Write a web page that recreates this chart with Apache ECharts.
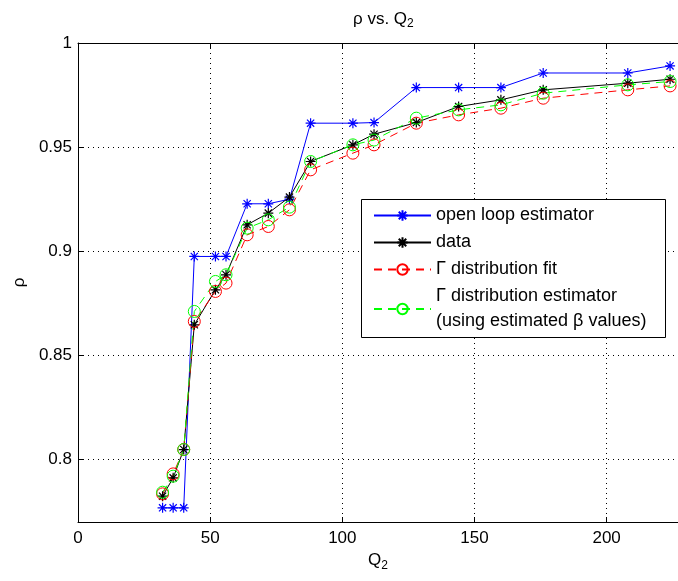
<!DOCTYPE html>
<html>
<head>
<meta charset="utf-8">
<script src="https://cdn.jsdelivr.net/npm/echarts@6/dist/echarts.min.js"></script>
<style>html,body{margin:0;padding:0;background:#fff;}#c{width:678px;height:581px;}</style>
</head>
<body>
<div id="c"></div>
<script>
const xValues = [32,36,40,44,52,56,64,72,80,88,104,112,128,144,160,176,208,224];
const openLoop = [0.7768,0.7768,0.7768,0.8975,0.8975,0.8975,0.9228,0.9228,0.9250,0.9615,0.9615,0.9618,0.9786,0.9786,0.9786,0.9856,0.9856,0.9890];
const dataVals = [0.7824,0.7912,0.8048,0.8647,0.8815,0.8887,0.9127,0.9183,0.9260,0.9431,0.9511,0.9562,0.9618,0.9695,0.9727,0.9775,0.9807,0.9826];
const gammaFit = [0.7835,0.7931,0.8048,0.8663,0.8807,0.8847,0.9079,0.9119,0.9199,0.9391,0.9471,0.9511,0.9615,0.9655,0.9687,0.9735,0.9775,0.9794];
const gammaEst = [0.7843,0.7920,0.8048,0.8711,0.8855,0.8887,0.9111,0.9151,0.9212,0.9431,0.9511,0.9534,0.9639,0.9679,0.9703,0.9759,0.9799,0.9815];
const seriesNames = ['open loop estimator','data','Γ distribution fit','Γ distribution estimator\n(using estimated β values)'];

const FONT = 'Liberation Sans, Arial, Helvetica, sans-serif';
const STAR = 'path://M0,-1L0,1M-1,0L1,0M-0.72,-0.72L0.72,0.72M-0.72,0.72L0.72,-0.72';
const CIRC = 'path://M1,0A1,1 0 1,1 -1,0A1,1 0 1,1 1,0Z';
const pairs = v => xValues.map((x,i)=>[x,v[i]]);

const chart = echarts.init(document.getElementById('c'), null, {renderer:'canvas'});
const axisCommon = {
  axisLine:{show:true,lineStyle:{color:'#000',width:1}},
  axisTick:{show:true,inside:true,length:5,lineStyle:{color:'#000'}},
};
chart.setOption({
  animation:false,
  backgroundColor:'#fff',
  title:{
    text:'{a|ρ vs. Q}{s|2}', left:348, top:3,
    textStyle:{fontWeight:'normal',rich:{a:{fontSize:17,fontWeight:'normal',fontFamily:FONT,color:'#000'},s:{fontSize:12,fontWeight:'normal',fontFamily:FONT,color:'#000',padding:[10,0,0,0]}}}
  },
  grid:{left:78,right:0,top:43,bottom:59,containLabel:false},
  xAxis:[{
    type:'value', min:0, max:227, interval:50,
    name:'{a|Q}{s|2}', nameLocation:'middle', nameGap:27,
    nameTextStyle:{rich:{a:{fontSize:17,fontFamily:FONT,color:'#000'},s:{fontSize:12,fontFamily:FONT,color:'#000',padding:[10,0,0,0]}}},
    ...axisCommon,
    axisLabel:{fontSize:17,fontFamily:FONT,color:'#000',margin:8,showMaxLabel:false},
    splitLine:{show:true,lineStyle:{color:'#000',type:[1,4],width:1}}
  },{
    type:'value', min:0, max:227, interval:50, position:'top',
    ...axisCommon, axisLabel:{show:false}, splitLine:{show:false}
  }],
  yAxis:[{
    type:'value', min:0.77, max:1, splitNumber:5,
    name:'ρ', nameLocation:'middle', nameGap:49, nameRotate:90,
    nameTextStyle:{fontSize:17,fontFamily:FONT,color:'#000'},
    ...axisCommon,
    axisLabel:{fontSize:17,fontFamily:FONT,color:'#000',margin:6,showMinLabel:false},
    splitLine:{show:true,lineStyle:{color:'#000',type:[1,4],width:1}}
  }],
  legend:{
    orient:'vertical', left:361, top:199, padding:[4,0,0,12],
    itemWidth:57, itemHeight:13, itemGap:2,
    data:seriesNames,
    textStyle:{fontSize:18,fontFamily:FONT,color:'#000',lineHeight:25},
    z:5
  },
  graphic:[{
    type:'rect', z:3, silent:true,
    shape:{x:361.5,y:199.5,width:304,height:138},
    style:{fill:'#fff',stroke:'#000',lineWidth:1}
  }],
  series:[
    {name:seriesNames[0],type:'line',data:pairs(openLoop),symbol:STAR,symbolSize:10,
     lineStyle:{color:'#0000ff',width:1},itemStyle:{color:'#0000ff',borderColor:'#0000ff',borderWidth:1.2}},
    {name:seriesNames[1],type:'line',data:pairs(dataVals),symbol:STAR,symbolSize:10,
     lineStyle:{color:'#000',width:1},itemStyle:{color:'#000',borderColor:'#000',borderWidth:1.2}},
    {name:seriesNames[2],type:'line',data:pairs(gammaFit),symbol:CIRC,symbolSize:12,
     lineStyle:{color:'#ff0000',width:1,type:[8,6]},itemStyle:{color:'rgba(0,0,0,0)',borderColor:'#ff0000',borderWidth:1}},
    {name:seriesNames[3],type:'line',data:pairs(gammaEst),symbol:CIRC,symbolSize:12,
     lineStyle:{color:'#00ff00',width:1,type:[8,6]},itemStyle:{color:'rgba(0,0,0,0)',borderColor:'#00ff00',borderWidth:1}}
  ]
});
</script>
</body>
</html>
